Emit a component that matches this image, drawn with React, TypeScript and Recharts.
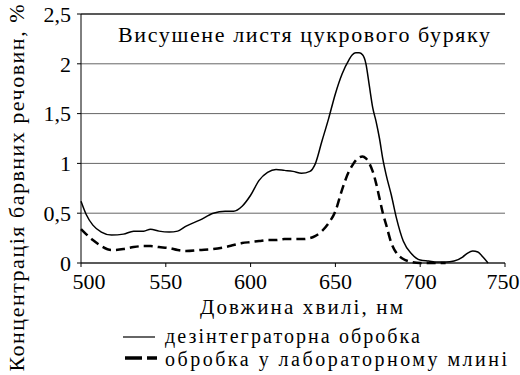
import { LineChart, Line, XAxis, YAxis, CartesianGrid, ReferenceLine } from 'recharts';

const wavelength = [
  500, 503, 507, 512, 518, 525, 531, 537, 541, 546, 552, 557, 562, 570, 578, 585, 590, 595, 600, 605,
  610, 615, 620, 625, 630, 635, 638, 642, 646, 650, 654, 658, 660, 662, 664, 666, 668, 670, 672, 674,
  676, 678, 680, 683, 686, 690, 695, 700, 705, 710, 715, 720, 725, 728, 731, 734, 737, 740,
];

// дезінтеграторна обробка
const disintegrator = [
  0.62, 0.49, 0.38, 0.31, 0.28, 0.29, 0.32, 0.32, 0.34, 0.32, 0.31, 0.32, 0.37, 0.43, 0.5, 0.52, 0.52, 0.57, 0.68, 0.83,
  0.91, 0.94, 0.93, 0.92, 0.9, 0.92, 0.99, 1.22, 1.45, 1.7, 1.9, 2.04, 2.09, 2.11, 2.11, 2.09, 2.0, 1.78, 1.56, 1.42,
  1.25, 1.04, 0.88, 0.68, 0.45, 0.22, 0.09, 0.03, 0.02, 0.01, 0.01, 0.02, 0.06, 0.1, 0.12, 0.11, 0.06, 0.0,
];

// обробка у лабораторному млині
const mill = [
  0.34, 0.29, 0.23, 0.17, 0.13, 0.14, 0.16, 0.17, 0.17, 0.16, 0.15, 0.13, 0.12, 0.13, 0.14, 0.16, 0.18, 0.2, 0.21, 0.22,
  0.23, 0.23, 0.24, 0.24, 0.24, 0.25, 0.27, 0.32, 0.4, 0.52, 0.74, 0.92, 0.98, 1.03, 1.06, 1.07, 1.05, 1.0, 0.92, 0.8,
  0.65, 0.5, 0.38, 0.2, 0.1, 0.04, 0.01, 0.0, 0.0, 0.0, 0.0, null, null, null, null, null, null, null,
];

const xTicks = [500, 550, 600, 650, 700, 750];
const yTicks = [0, 0.5, 1, 1.5, 2, 2.5];

const data = wavelength.map((w, i) => ({ w, a: disintegrator[i], b: mill[i] }));

const FONT = '"Liberation Serif", "Times New Roman", serif';

function XTick(props: any) {
  const { x, y, payload } = props;
  // first label sits a little to the right of the axis, as in the source figure
  const shift = payload.value === 500 ? 8 : payload.value === 750 ? -2 : 0;
  return (
    <text x={x + shift} y={y + 3} dy="0.75em" textAnchor="middle" fontSize={22} fontFamily={FONT} fill="#000">
      {payload.value}
    </text>
  );
}

function YTick(props: any) {
  const { x, y, payload } = props;
  return (
    <text x={x - 4} y={y} dy="0.35em" textAnchor="end" fontSize={22} fontFamily={FONT} fill="#000">
      {String(payload.value).replace('.', ',')}
    </text>
  );
}

export default function App() {
  return (
    <div style={{ position: 'absolute', left: 0, top: 0, width: 520, height: 375, background: '#fff' }}>
      <LineChart width={520} height={375} data={data} margin={{ top: 14, right: 15, left: 0, bottom: 82 }}>
        <CartesianGrid vertical={false} stroke="#666" strokeWidth={1} />
        <ReferenceLine y={2.5} stroke="#000" strokeWidth={1.2} />
        <XAxis
          dataKey="w"
          type="number"
          domain={[500, 750]}
          ticks={xTicks}
          height={30}
          stroke="#000"
          tickSize={4}
          tick={<XTick />}
        />
        <YAxis
          type="number"
          domain={[0, 2.5]}
          ticks={yTicks}
          width={81}
          stroke="#000"
          tickSize={4}
          tick={<YTick />}
        />
        <Line dataKey="a" type="monotone" stroke="#000" strokeWidth={1.5} dot={false} isAnimationActive={false} />
        <Line dataKey="b" type="monotone" stroke="#000" strokeWidth={2.5} strokeDasharray="9 5" dot={false} isAnimationActive={false} />
      </LineChart>
      <svg width={520} height={375} style={{ position: 'absolute', left: 0, top: 0, pointerEvents: 'none' }}>
        <text x={118} y={42} fontSize={22} fontFamily={FONT} fill="#000" textLength={372} lengthAdjust="spacing">
          Висушене листя цукрового буряку
        </text>
        <text x={200} y={314} fontSize={21} fontFamily={FONT} fill="#000" textLength={203} lengthAdjust="spacing">
          Довжина хвилі, нм
        </text>
        <text
          x={0}
          y={0}
          fontSize={22}
          fontFamily={FONT}
          fill="#000"
          textAnchor="middle"
          textLength={367}
          lengthAdjust="spacing"
          transform="translate(24,188) rotate(-90)"
        >
          Концентрація барвних речовин, %
        </text>
        <line x1={123} y1={337} x2={155} y2={337} stroke="#000" strokeWidth={1.2} />
        <text x={165} y={343} fontSize={20} fontFamily={FONT} fill="#000" textLength={255} lengthAdjust="spacing">
          дезінтеграторна обробка
        </text>
        <line x1={125} y1={358} x2={157} y2={358} stroke="#000" strokeWidth={3.5} strokeDasharray="17 5" />
        <text x={165} y={366} fontSize={20} fontFamily={FONT} fill="#000" textLength={342} lengthAdjust="spacing">
          обробка у лабораторному млині
        </text>
      </svg>
    </div>
  );
}
